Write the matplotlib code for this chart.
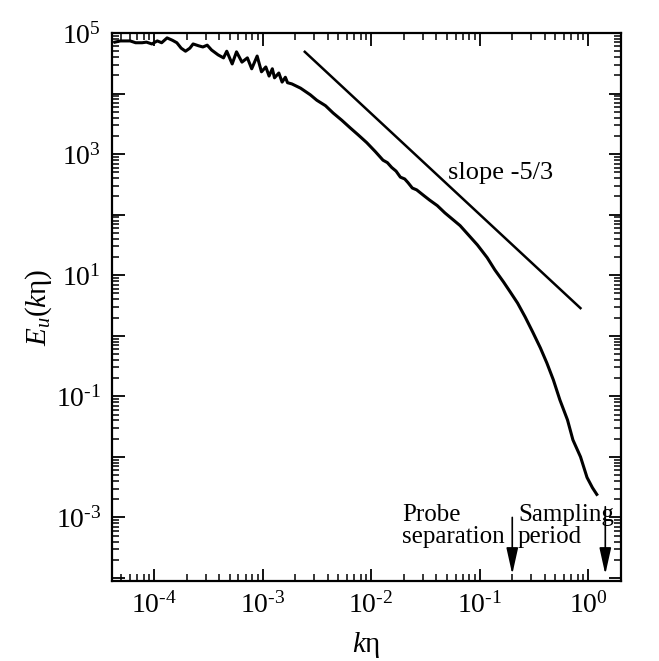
import matplotlib

matplotlib.use("Agg")

import matplotlib.pyplot as plt
import numpy as np
from matplotlib.ticker import FixedLocator, FuncFormatter, NullFormatter

plt.rcParams["font.family"] = ["Liberation Serif", "DejaVu Serif"]
plt.rcParams["mathtext.fontset"] = "custom"
plt.rcParams["mathtext.rm"] = "Liberation Serif"
plt.rcParams["mathtext.it"] = "Liberation Serif:italic"

# spectrum, as log10 values
log_k = [
    -4.36, -4.31, -4.27, -4.22, -4.17, -4.11, -4.07, -4.02, -3.97, -3.93,
    -3.88, -3.83, -3.79, -3.75, -3.71, -3.67, -3.64, -3.59, -3.55, -3.51,
    -3.47, -3.41, -3.36, -3.33, -3.28, -3.24, -3.19, -3.14, -3.10, -3.05,
    -3.01, -2.97, -2.94, -2.91, -2.89, -2.85, -2.82, -2.79, -2.77, -2.73,
    -2.65, -2.56, -2.50, -2.42, -2.35, -2.27, -2.19, -2.12, -2.04, -1.96,
    -1.89, -1.85, -1.81, -1.77, -1.73, -1.69, -1.66, -1.62, -1.58, -1.51,
    -1.46, -1.39, -1.32, -1.24, -1.18, -1.12, -1.02, -0.93, -0.86, -0.78,
    -0.72, -0.65, -0.58, -0.51, -0.44, -0.38, -0.32, -0.26, -0.19, -0.14,
    -0.07, -0.01, 0.04, 0.08,
]
log_E = [
    4.85, 4.87, 4.87, 4.87, 4.84, 4.84, 4.85, 4.82, 4.87, 4.84,
    4.92, 4.88, 4.84, 4.75, 4.70, 4.75, 4.82, 4.79, 4.77, 4.80,
    4.72, 4.64, 4.59, 4.70, 4.49, 4.69, 4.52, 4.59, 4.41, 4.62,
    4.36, 4.44, 4.29, 4.41, 4.26, 4.34, 4.19, 4.27, 4.18, 4.16,
    4.09, 3.98, 3.89, 3.80, 3.68, 3.56, 3.43, 3.32, 3.19, 3.04,
    2.90, 2.86, 2.78, 2.72, 2.62, 2.59, 2.53, 2.44, 2.41, 2.31,
    2.24, 2.15, 2.03, 1.91, 1.82, 1.70, 1.50, 1.29, 1.09, 0.89,
    0.73, 0.54, 0.31, 0.06, -0.20, -0.45, -0.73, -1.06, -1.39, -1.72,
    -2.00, -2.34, -2.51, -2.62,
]

# -5/3 reference line
slope_k = [2.45e-3, 0.85]
slope_start = 4.9e4

# marked wavenumbers
probe_k = 0.2
sampling_k = 1.44

x_ticks = [1e-4, 1e-3, 1e-2, 1e-1, 1e0]
y_ticks = [10.0 ** e for e in range(-4, 6)]
y_labelled = [5, 3, 1, -1, -3]

k = 10.0 ** np.array(log_k)
E = 10.0 ** np.array(log_E)
slope_E = [slope_start, slope_start * (slope_k[1] / slope_k[0]) ** (-5 / 3)]
minor = [m * 10.0 ** e for e in range(-6, 6) for m in range(2, 10)]


def pow_label(e):
    # hyphen rather than a long minus, as in the original
    sign = "\u2010" if e < 0 else ""
    return r"$10^{%s%d}$" % (sign, abs(e))


fig = plt.figure(figsize=(6.59, 6.61), dpi=100)
ax = fig.add_axes([0.170, 0.121, 0.772, 0.829])

ax.plot(k, E, color="black", linewidth=2.2)
ax.plot(slope_k, slope_E, color="black", linewidth=1.8)

ax.set_xscale("log")
ax.set_yscale("log")
ax.set_xlim(4.1e-5, 2.0)
ax.set_ylim(8.9e-5, 1e5)

ax.xaxis.set_major_locator(FixedLocator(x_ticks))
ax.xaxis.set_major_formatter(
    FuncFormatter(lambda v, p: pow_label(round(np.log10(v))))
)
ax.yaxis.set_major_locator(FixedLocator(y_ticks))


def y_fmt(v, p):
    e = round(np.log10(v))
    return pow_label(e) if e in y_labelled else ""


ax.yaxis.set_major_formatter(FuncFormatter(y_fmt))
ax.xaxis.set_minor_locator(FixedLocator(minor))
ax.yaxis.set_minor_locator(FixedLocator(minor))
ax.xaxis.set_minor_formatter(NullFormatter())
ax.yaxis.set_minor_formatter(NullFormatter())

ax.tick_params(which="both", direction="in", top=True, right=True,
               labelsize=20, pad=8)
ax.tick_params(which="major", length=9, width=1.3)
ax.tick_params(which="minor", length=5, width=1.1)
for s in ax.spines.values():
    s.set_linewidth(1.6)

ax.set_xlabel(r"$k\mathrm{\eta}$", fontsize=21, labelpad=8)
ax.set_ylabel(r"$E_u(k\mathrm{\eta})$", fontsize=21, labelpad=1)

ax.text(0.0513, 490, "slope -5/3", fontsize=19, va="center", ha="left")
ax.text(0.0193, 7.3e-4, "Probe\nseparation", fontsize=18, va="center",
        ha="left", linespacing=1.0)
ax.text(0.226, 7.3e-4, "Sampling\nperiod", fontsize=18, va="center",
        ha="left", linespacing=1.0)

arrow = dict(arrowstyle="-|>,head_length=0.9,head_width=0.2", color="black",
             linewidth=1.2, mutation_scale=18, shrinkA=0, shrinkB=0)
ax.annotate("", xy=(probe_k, 1.15e-4), xytext=(probe_k, 1.0e-3),
            arrowprops=arrow)
ax.annotate("", xy=(sampling_k, 1.15e-4), xytext=(sampling_k, 1.5e-3),
            arrowprops=arrow)

fig.savefig("out.png", dpi=100)
plt.close(fig)
